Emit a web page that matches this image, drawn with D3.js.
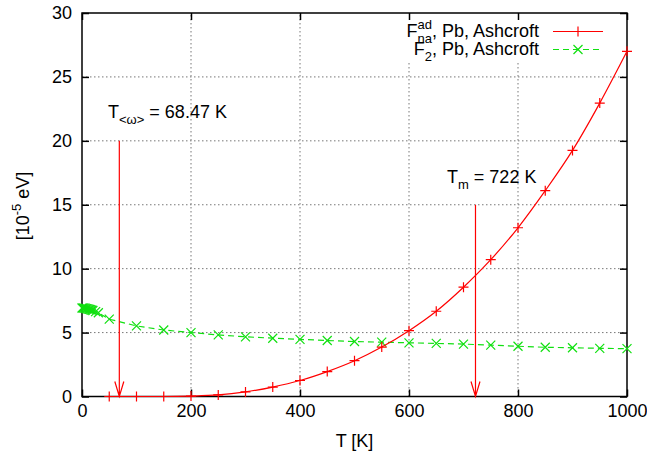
<!DOCTYPE html>
<html>
<head>
<meta charset="utf-8">
<script src="https://cdn.jsdelivr.net/npm/d3@7"></script>
<style>
  html, body { margin: 0; padding: 0; background: #fff; }
  svg { display: block; font-family: "Liberation Sans", Arial, Helvetica, sans-serif; }
</style>
</head>
<body>
<svg id="chart" width="647" height="453"></svg>
<script>
// ---- data ----
const redT   = [50, 100, 150, 200, 250, 300, 350, 400, 450, 500, 550, 600, 650, 700, 750, 800, 850, 900, 950, 1000];
const redV   = [0, 0, 0, 0.03, 0.12, 0.36, 0.74, 1.25, 1.95, 2.8, 3.87, 5.15, 6.67, 8.55, 10.7, 13.2, 16.1, 19.25, 22.95, 27.0];
const greenT = [0, 2, 4, 6, 8, 10, 12, 14, 16, 18, 20, 25, 30, 50, 100, 150, 200, 250, 300, 350, 400, 450, 500, 550, 600, 650, 700, 750, 800, 850, 900, 950, 1000];
const greenV = [6.92, 6.92, 6.91, 6.9, 6.88, 6.86, 6.84, 6.82, 6.79, 6.76, 6.73, 6.64, 6.55, 6.05, 5.52, 5.2, 5.0, 4.82, 4.67, 4.56, 4.47, 4.38, 4.3, 4.25, 4.2, 4.15, 4.1, 4.02, 3.93, 3.85, 3.81, 3.77, 3.74];
const xTicks = [0, 200, 400, 600, 800, 1000];
const yTicks = [0, 5, 10, 15, 20, 25, 30];
const arrowT = [68.47, 722];
const arrowTop = [20, 15];

// ---- layout ----
const L = 82, R = 627, T = 13, B = 396.5;
const FS = 18, FSS = 13;
const svg = d3.select("#chart");
const x = d3.scaleLinear().domain([0, 1000]).range([L, R]);
const y = d3.scaleLinear().domain([0, 30]).range([B, T]);
const red = "#ff0000", green = "#11e011";

// grid
const grid = svg.append("g");
grid.selectAll("line.gx").data(xTicks.filter(d => d > 0 && d < 1000)).enter().append("line")
  .attr("x1", d => x(d)).attr("x2", d => x(d)).attr("y1", B).attr("y2", T)
  .attr("stroke", "#777").attr("stroke-width", 1).attr("stroke-dasharray", "1.5,2.5");
grid.selectAll("line.gy").data(yTicks.filter(d => d > 0 && d < 30)).enter().append("line")
  .attr("x1", L).attr("x2", R).attr("y1", d => y(d)).attr("y2", d => y(d))
  .attr("stroke", "#777").attr("stroke-width", 1).attr("stroke-dasharray", "1.5,2.5");

// legend background (hides grid)
svg.append("rect").attr("x", 392).attr("y", T + 1).attr("width", R - 392 - 4).attr("height", 47).attr("fill", "#fff");

// axes via d3 axis (labels), ticks drawn inward
const xAxis = svg.append("g").attr("transform", `translate(0,${B})`)
  .call(d3.axisBottom(x).tickValues(xTicks).tickSize(-7).tickPadding(8).tickFormat(d3.format("d")));
const xAxisTop = svg.append("g").attr("transform", `translate(0,${T})`)
  .call(d3.axisTop(x).tickValues(xTicks).tickSize(-7).tickFormat(""));
const yAxis = svg.append("g").attr("transform", `translate(${L},0)`)
  .call(d3.axisLeft(y).tickValues(yTicks).tickSize(-7).tickPadding(10).tickFormat(d3.format("d")));
const yAxisR = svg.append("g").attr("transform", `translate(${R},0)`)
  .call(d3.axisRight(y).tickValues(yTicks).tickSize(-7).tickFormat(""));
[xAxis, xAxisTop, yAxis, yAxisR].forEach(g => {
  g.select(".domain").remove();
  g.selectAll(".tick line").attr("stroke", "#000").attr("stroke-width", 1.5);
  g.selectAll("text").attr("font-size", FS).attr("fill", "#000")
    .attr("font-family", "Liberation Sans, Arial, sans-serif");
});
xAxis.selectAll(".tick text").attr("dy", "0.71em");

// frame
svg.append("rect").attr("x", L).attr("y", T).attr("width", R - L).attr("height", B - T)
  .attr("fill", "none").attr("stroke", "#000").attr("stroke-width", 1.5);

// axis titles
svg.append("text").attr("x", x(500)).attr("y", 447).attr("text-anchor", "middle")
  .attr("font-size", FS).text("T [K]");
const yl = svg.append("text").attr("transform", "translate(29,206) rotate(-90)")
  .attr("text-anchor", "middle").attr("font-size", FS);
yl.append("tspan").text("[10");
yl.append("tspan").attr("dy", -8).attr("font-size", FSS).text("-5");
yl.append("tspan").attr("dy", 8).text(" eV]");

// curves
const lineRed = d3.line().x(d => x(d[0])).y(d => y(d[1])).curve(d3.curveMonotoneX);
const lineGreen = d3.line().x(d => x(d[0])).y(d => y(d[1]));
const redData = redT.map((t, i) => [t, redV[i]]);
const greenData = greenT.map((t, i) => [t, greenV[i]]);

svg.append("path").attr("d", lineGreen(greenData)).attr("fill", "none")
  .attr("stroke", green).attr("stroke-width", 1.2).attr("stroke-dasharray", "6,4");
svg.append("g").selectAll("path").data(greenData).enter().append("path")
  .attr("d", d => { const cx = x(d[0]), cy = y(d[1]), s = 4.5;
    return `M${cx-s},${cy-s}L${cx+s},${cy+s}M${cx-s},${cy+s}L${cx+s},${cy-s}`; })
  .attr("stroke", green).attr("stroke-width", 1.2);

svg.append("path").attr("d", lineRed(redData)).attr("fill", "none")
  .attr("stroke", red).attr("stroke-width", 1.2);
svg.append("g").selectAll("path").data(redData).enter().append("path")
  .attr("d", d => { const cx = x(d[0]), cy = y(d[1]), s = 5;
    return `M${cx-s},${cy}L${cx+s},${cy}M${cx},${cy-s}L${cx},${cy+s}`; })
  .attr("stroke", red).attr("stroke-width", 1.2);

// arrows
arrowT.forEach((t, i) => {
  const ax = x(t), y0 = y(arrowTop[i]), y1 = y(0);
  svg.append("path").attr("d", `M${ax},${y0}L${ax},${y1}M${ax-4.5},${y1-15}L${ax},${y1}L${ax+4.5},${y1-15}`)
    .attr("fill", "none").attr("stroke", red).attr("stroke-width", 1.2);
});

// annotations
const a1 = svg.append("text").attr("x", 108).attr("y", 118).attr("font-size", FS);
a1.append("tspan").text("T");
a1.append("tspan").attr("dy", 6).attr("font-size", FSS).text("<ω>");
a1.append("tspan").attr("dy", -6).text(" = 68.47 K");
const a2 = svg.append("text").attr("x", 447).attr("y", 183).attr("font-size", FS);
a2.append("tspan").text("T");
a2.append("tspan").attr("dy", 6).attr("font-size", FSS).text("m");
a2.append("tspan").attr("dy", -6).text(" = 722 K");

// legend
const legEnd = 539;
function legendEntry(by, supTxt, subTxt, color, marker) {
  const main = svg.append("text").attr("x", legEnd).attr("y", by).attr("text-anchor", "end")
    .attr("font-size", FS).text(", Pb, Ashcroft");
  const w = main.node().getComputedTextLength();
  let ws = 0;
  if (supTxt) {
    const s = svg.append("text").attr("x", legEnd - w).attr("y", by - 8).attr("text-anchor", "end")
      .attr("font-size", FSS).text(supTxt);
    ws = Math.max(ws, s.node().getComputedTextLength());
  }
  if (subTxt) {
    const s = svg.append("text").attr("x", legEnd - w).attr("y", by + 6).attr("text-anchor", "end")
      .attr("font-size", FSS).text(subTxt);
    ws = Math.max(ws, s.node().getComputedTextLength());
  }
  svg.append("text").attr("x", legEnd - w - ws).attr("y", by).attr("text-anchor", "end")
    .attr("font-size", FS).text("F");
  const ly = by - 5.5;
  svg.append("line").attr("x1", 553).attr("x2", 603).attr("y1", ly).attr("y2", ly)
    .attr("stroke", color).attr("stroke-width", 1.2).attr("stroke-dasharray", marker === "x" ? "6,4" : null);
  const cx = 578, s = marker === "x" ? 4.5 : 5;
  svg.append("path").attr("d", marker === "x"
      ? `M${cx-s},${ly-s}L${cx+s},${ly+s}M${cx-s},${ly+s}L${cx+s},${ly-s}`
      : `M${cx-s},${ly}L${cx+s},${ly}M${cx},${ly-s}L${cx},${ly+s}`)
    .attr("stroke", color).attr("stroke-width", 1.2);
}
legendEntry(37, "ad", "na", red, "+");
legendEntry(55, null, "2", green, "x");
</script>
</body>
</html>
